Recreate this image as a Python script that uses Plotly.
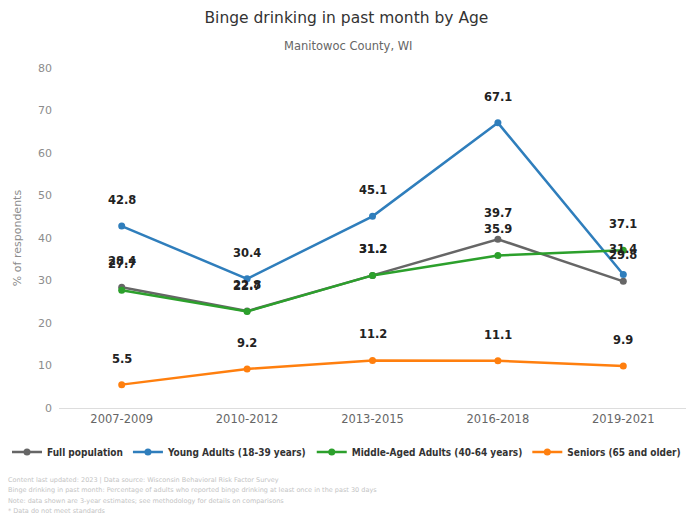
import plotly.graph_objects as go

periods = ["2007-2009", "2010-2012", "2013-2015", "2016-2018", "2019-2021"]
full_population = [28.4, 22.8, 31.2, 39.7, 29.8]
young_adults = [42.8, 30.4, 45.1, 67.1, 31.4]
middle_aged = [27.7, 22.7, 31.2, 35.9, 37.1]
seniors = [5.5, 9.2, 11.2, 11.1, 9.9]

series = [
    ("Full population", full_population, "#666666"),
    ("Young Adults (18-39 years)", young_adults, "#2f7ebc"),
    ("Middle-Aged Adults (40-64 years)", middle_aged, "#2ca02c"),
    ("Seniors (65 and older)", seniors, "#ff7f0e"),
]

font_family = "DejaVu Sans, Verdana, sans-serif"
legend_family = "DejaVu Sans Condensed, Liberation Sans Narrow, Liberation Sans, sans-serif"

fig = go.Figure()
for name, vals, color in series:
    fig.add_trace(go.Scatter(
        x=periods, y=vals, name=f"<b>{name}</b>", mode="lines+markers",
        line=dict(color=color, width=2.5),
        marker=dict(color=color, size=7),
        hoverinfo="skip",
    ))
    for p, v in zip(periods, vals):
        fig.add_annotation(
            x=p, y=v, xref="x", yref="y", text=f"<b>{v:.1f}</b>",
            showarrow=False, yshift=26, yanchor="middle",
            font=dict(size=11.5, color="#222222", family=font_family),
        )

footnotes = [
    "Content last updated: 2023 | Data source: Wisconsin Behavioral Risk Factor Survey",
    "Binge drinking in past month: Percentage of adults who reported binge drinking at least once in the past 30 days",
    "Note: data shown are 3-year estimates; see methodology for details on comparisons",
    "* Data do not meet standards",
]

fig.update_layout(
    width=686, height=519,
    margin=dict(l=59, r=0, t=68, b=111),
    paper_bgcolor="white", plot_bgcolor="white",
    font=dict(family=font_family, color="#666666"),
    title=dict(
        text="Binge drinking in past month by Age",
        x=0.505, xanchor="center", y=1 - 18 / 519, yanchor="middle",
        font=dict(size=15.5, color="#333333", family=font_family),
    ),
    showlegend=True,
    legend=dict(
        orientation="h", x=(36 - 59) / 627, xanchor="left",
        y=-(452 - 408) / 340, yanchor="middle",
        font=dict(size=10, color="#333333", family=legend_family),
        itemwidth=30, traceorder="normal",
    ),
    xaxis=dict(
        type="category", range=[-0.5, 4.5], showgrid=False, zeroline=False,
        showline=True, linecolor="#dddddd", linewidth=1, ticks="",
        tickfont=dict(size=11.5, color="#666666"),
    ),
    yaxis=dict(
        range=[0, 80], dtick=10, showgrid=False, zeroline=False, showline=False,
        tickfont=dict(size=11, color="#8c8c8c"),
        title=dict(text="% of respondents", font=dict(size=11, color="#8c8c8c"), standoff=14),
        ticklabelstandoff=6,
    ),
)

fig.add_annotation(text="Manitowoc County, WI", x=(348 - 59) / 627, y=1.0, xref="paper", yref="paper",
                   yshift=68 - 46, yanchor="middle", xanchor="center", showarrow=False,
                   font=dict(size=11.5, color="#666666", family=font_family))
for i, line in enumerate(footnotes):
    fig.add_annotation(text=line, x=0.0, xanchor="left", xref="paper", yref="paper",
                       xshift=-53, y=0, yanchor="middle", yshift=-(72 + 10.3 * i),
                       showarrow=False,
                       font=dict(size=6.5, color="#c4c4c4", family=font_family))

fig.write_html("out.html", config={"displayModeBar": False},
               post_script="document.body.style.margin='0';")
